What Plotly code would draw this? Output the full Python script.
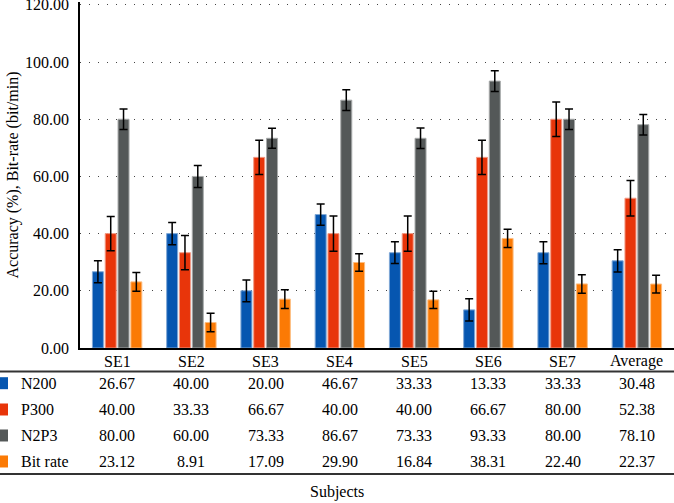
import plotly.graph_objects as go

categories = ["SE1", "SE2", "SE3", "SE4", "SE5", "SE6", "SE7", "Average"]
series_names = ["N200", "P300", "N2P3", "Bit rate"]
n200 = [26.67, 40.00, 20.00, 46.67, 33.33, 13.33, 33.33, 30.48]
p300 = [40.00, 33.33, 66.67, 40.00, 40.00, 66.67, 80.00, 52.38]
n2p3 = [80.00, 60.00, 73.33, 86.67, 73.33, 93.33, 80.00, 78.10]
bitrate = [23.12, 8.91, 17.09, 29.90, 16.84, 38.31, 22.40, 22.37]
err_n200 = [3.85, 3.9, 3.8, 3.7, 3.8, 3.9, 3.85, 3.9]
err_p300 = [6.0, 6.0, 6.0, 6.2, 6.2, 6.0, 6.0, 6.2]
err_n2p3 = [3.6, 3.85, 3.5, 3.6, 3.6, 3.6, 3.6, 3.6]
err_bit = [3.25, 3.25, 3.3, 3.1, 3.0, 3.2, 3.25, 3.1]
y_ticks = [0, 20, 40, 60, 80, 100, 120]

values = [n200, p300, n2p3, bitrate]
errors = [err_n200, err_p300, err_n2p3, err_bit]
colors = ["#0656b0", "#e8350a", "#545858", "#fb7a05"]
edge = ["#7fa8d6", "#f29a85", "#a8aaaa", "#fdbd80"]

W, H = 674, 503
Y_TOP = 121
ML, MR, MB = 80, 0, 154.5
PH = 2.86 * Y_TOP
MT = max(0, H - MB - PH)
PW = W - ML - MR

def py(px):
    return (H - MB - px) / PH

def pxx(px):
    return (px - ML) / PW

FONT = "Liberation Serif, Times New Roman, serif"
tf = dict(family=FONT, size=16, color="black")

fig = go.Figure()
for name, vals, errs, c, e in zip(series_names, values, errors, colors, edge):
    fig.add_trace(go.Bar(
        name=name, x=categories, y=vals,
        marker=dict(color=c, line=dict(color=e, width=1)),
        error_y=dict(type="data", array=errs, visible=True, color="black", thickness=1.5, width=4),
        showlegend=False, hoverinfo="skip",
    ))

annotations = []
annotations.append(dict(text="Accuracy (%), Bit-rate (bit/min)", xref="paper", yref="paper",
                        x=pxx(13), y=py(176), textangle=-90, showarrow=False, font=tf,
                        xanchor="center", yanchor="middle"))
for c in categories:
    annotations.append(dict(text=c, xref="x", yref="paper", x=c, y=py(362), showarrow=False, font=tf,
                            xanchor="center", yanchor="middle"))
row_y = [383.7, 410, 436, 462]
shapes = []
for name, vals, c, ry in zip(series_names, values, colors, row_y):
    annotations.append(dict(text=name, xref="paper", yref="paper", x=pxx(19), y=py(ry), showarrow=False,
                            font=tf, xanchor="left", yanchor="middle"))
    for cat, v in zip(categories, vals):
        annotations.append(dict(text=f"{v:.2f}", xref="x", yref="paper", x=cat, y=py(ry), showarrow=False,
                                font=tf, xanchor="center", yanchor="middle"))
    shapes.append(dict(type="rect", xref="paper", yref="paper",
                       x0=pxx(-2), x1=pxx(8), y0=py(ry - 6), y1=py(ry + 6),
                       fillcolor=c, line=dict(width=0)))
annotations.append(dict(text="Subjects", xref="paper", yref="paper", x=pxx(337), y=py(493), showarrow=False,
                        font=tf, xanchor="center", yanchor="middle"))
for ly in [372, 474.5]:
    shapes.append(dict(type="line", xref="paper", yref="paper", x0=pxx(0), x1=1, y0=py(ly), y1=py(ly),
                       line=dict(color="#333333", width=2)))

fig.update_layout(
    width=W, height=H,
    margin=dict(l=ML, r=MR, t=MT, b=MB, autoexpand=False),
    paper_bgcolor="white", plot_bgcolor="white",
    barmode="group", bargap=0.31, bargroupgap=0.14,
    font=tf,
    annotations=annotations, shapes=shapes,
    xaxis=dict(showticklabels=False, showgrid=False, showline=True, linecolor="black", linewidth=1.5,
               ticks="", zeroline=False),
    yaxis=dict(range=[0, Y_TOP], tickvals=y_ticks, tickformat=".2f", showline=True, linecolor="black",
               linewidth=1.5, ticks="", showgrid=True, gridcolor="#444444", gridwidth=1.3,
               griddash="1px,8px", zeroline=False, ticklabelstandoff=6, ticklabeloverflow="allow",
               tickfont=tf),
)
fig.write_html("out.html", config={"displayModeBar": False},
               post_script="document.body.style.margin='0';")
